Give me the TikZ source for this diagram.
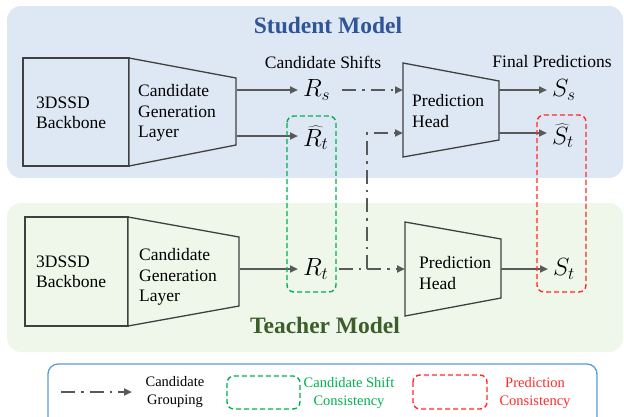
\documentclass[tikz,border=0pt]{standalone}
\usepackage{fontspec}
\setmainfont{Liberation Serif}
\usetikzlibrary{arrows.meta}
\definecolor{stbg}{HTML}{DEE8F4}
\definecolor{tebg}{HTML}{EFF6EA}
\definecolor{stblue}{HTML}{2F5597}
\definecolor{tegreen}{HTML}{3B5E2B}
\definecolor{arrgray}{HTML}{595959}
\definecolor{shgray}{HTML}{404040}
\definecolor{cgreen}{HTML}{00B050}
\definecolor{cred}{HTML}{FF2A2A}
\definecolor{lgblue}{HTML}{5B9BD5}
\tikzset{
  shp/.style={draw=shgray, line width=1.3pt},
  lbl/.style={font=\fontsize{17.5}{20.5}\selectfont, align=left, inner sep=0pt},
  lgtext/.style={font=\fontsize{14.5}{18}\selectfont, align=center, inner sep=0pt},
  ttl/.style={font=\fontsize{23.5}{26}\selectfont\bfseries, inner sep=0pt},
  mth/.style={font=\fontsize{23}{26}\selectfont, inner sep=0pt},
  arr/.style={draw=arrgray, line width=2pt, -{Triangle[length=8pt,width=7pt]}},
  ddarr/.style={draw=arrgray, line width=2pt, dash pattern=on 14pt off 6pt on 2.5pt off 6pt, -{Triangle[length=8pt,width=7pt]}},
  gbox/.style={draw=cgreen, line width=1.4pt, dash pattern=on 5pt off 3pt, rounded corners=7pt},
  rbox/.style={draw=cred, line width=1.4pt, dash pattern=on 5pt off 3pt, rounded corners=7pt},
}
\begin{document}
\begin{tikzpicture}[x=1pt,y=-1pt]
\clip (0,0) rectangle (624,416);
% backgrounds
\fill[stbg, rounded corners=14pt] (7,6) rectangle (623,178);
\fill[tebg, rounded corners=14pt] (7,203) rectangle (623,352);
\node[ttl, text=stblue] (stitle) at (328,25) {Student Model};
\node[ttl, text=tegreen] (ttitle) at (325,325) {Teacher Model};
% column labels
\node[lbl] (cshift) at (323,62) {Candidate Shifts};
\node[lbl] (fpred) at (552,62) {Final Predictions};

% ---------- student ----------
\draw[shp, fill=stbg] (23,58) rectangle (129,166);
\draw[shp, fill=stbg] (129,58) -- (236,78) -- (236,145) -- (129,166) -- cycle;
\node[lbl, anchor=west] (sbb) at (36,113) {3DSSD\\Backbone};
\node[lbl, anchor=west] (scg) at (138,113) {Candidate\\Generation\\Layer};
\coordinate (scgo1) at (237,90);
\coordinate (scgo2) at (237,136);
\node[mth, anchor=west] (Rs) at (303,90) {$R_s$};
\node[mth, anchor=west] (Rth) at (303,138) {$\widehat{R_t}$};
\draw[shp, fill=stbg] (403,63) -- (499,81) -- (499,140) -- (403,157) -- cycle;
\node[lbl, anchor=west] (sph) at (412,111) {Prediction\\Head};
\coordinate (sphi1) at (403,90);
\coordinate (sphi2) at (403,133);
\coordinate (spho1) at (499,90);
\coordinate (spho2) at (499,133);
\node[mth, anchor=west] (Ss) at (552,90) {$S_s$};
\node[mth, anchor=west] (Sth) at (552,136) {$\widehat{S}_t$};

% ---------- teacher ----------
\draw[shp, fill=tebg] (25,217) rectangle (128,326);
\draw[shp, fill=tebg] (128,217) -- (239,237) -- (239,306) -- (128,326) -- cycle;
\node[lbl, anchor=west] (tbb) at (36,272) {3DSSD\\Backbone};
\node[lbl, anchor=west] (tcg) at (139,277) {Candidate\\Generation\\Layer};
\coordinate (tcgo) at (240,269);
\node[mth, anchor=west] (Rt) at (303,269) {$R_t$};
\draw[shp, fill=tebg] (405,222) -- (501,239) -- (501,298) -- (405,316) -- cycle;
\node[lbl, anchor=west] (tph) at (419,273) {Prediction\\Head};
\coordinate (tphi) at (405,269);
\coordinate (tpho) at (501,269);
\node[mth, anchor=west] (St) at (553,269) {$S_t$};
\coordinate (jn) at (367,269);

% ---------- connectors ----------
\draw[arr] (scgo1) -- ([xshift=-5pt]Rs.west |- scgo1);
\draw[arr] (scgo2) -- ([xshift=-5pt]Rth.west |- scgo2);
\draw[arr] (tcgo) -- ([xshift=-5pt]Rt.west |- tcgo);
\draw[ddarr] ([xshift=12pt]Rs.east |- sphi1) -- (sphi1);
\draw[ddarr] ([xshift=10pt]Rt.east |- tphi) -- (tphi);
\draw[ddarr] (jn) |- (sphi2);
\draw[arr] (spho1) -- ([xshift=-5pt]Ss.west |- spho1);
\draw[arr] (spho2) -- ([xshift=-5pt]Sth.west |- spho2);
\draw[arr] (tpho) -- ([xshift=-5pt]St.west |- tpho);

% consistency boxes
\draw[gbox] (287,116) rectangle (336,292);
\draw[rbox] (537,115) rectangle (586,292);

% ---------- legend ----------
\draw[draw=lgblue, line width=1.3pt, rounded corners=10pt] (48,364) rectangle (597,430);
\coordinate (lga) at (61,392);
\coordinate (lgb) at (132,392);
\draw[ddarr] (lga) -- (lgb);
\node[lgtext] (lgt1) at (175,392) {Candidate\\Grouping};
\draw[gbox] (227,376) rectangle (300,409);
\node[lgtext, text=cgreen] (lgt2) at (349,393) {Candidate Shift\\Consistency};
\draw[rbox] (413,375) rectangle (487,409);
\node[lgtext, text=cred] (lgt3) at (535,393) {Prediction\\Consistency};
\end{tikzpicture}
\end{document}
